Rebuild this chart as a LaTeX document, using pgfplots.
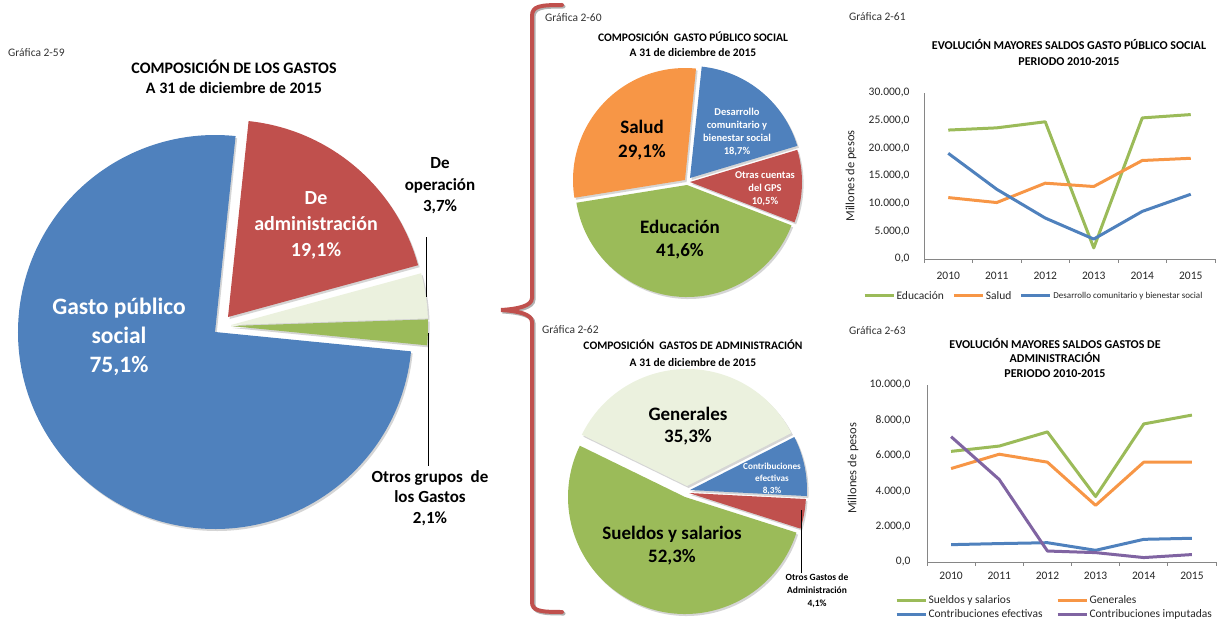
\documentclass[border=0pt]{standalone}
\usepackage{pgfplots}
\pgfplotsset{compat=1.18}
\usepackage{fontspec}
\setmainfont{Carlito}
\definecolor{cblue}{HTML}{4F81BD}
\definecolor{cred}{HTML}{C0504D}
\definecolor{cgreen}{HTML}{9BBB59}
\definecolor{corange}{HTML}{F79646}
\definecolor{cbeige}{HTML}{EBF1DE}
\definecolor{cpurple}{HTML}{8064A2}
\definecolor{axgray}{HTML}{868686}
\newcommand\fs[2]{\fontsize{#1}{#2}\selectfont}
% wedge: cx, cy, r, start angle, percent, style
\newcommand\pwedge[6]{%
  \fill[#6] (axis cs:#1,#2) -- ++(#4:#3pt) arc[start angle=#4, delta angle={-#5*3.6}, radius=#3pt] -- cycle;}
\tikzset{shad/.style={fill=black!30, opacity=0.55, shift={(1.6pt,-2pt)}}}
\pgfplotsset{lc/.style={
  scale only axis, xmin=-0.5, xmax=5.5,
  axis x line=bottom, axis y line=left,
  axis line style={-, draw=axgray, line width=0.8pt},
  xtick={0,...,5}, xticklabels={2010,2011,2012,2013,2014,2015},
  minor xtick={-0.5,0.5,...,5.5},
  major tick length=0pt, minor tick length=4pt, tick align=outside,
  minor tick style={draw=axgray, line width=0.8pt},
  tick label style={font=\fs{11.5}{13}, text=black!85},
  scaled y ticks=false,
  yticklabel style={/pgf/number format/use comma, /pgf/number format/fixed, /pgf/number format/fixed zerofill, /pgf/number format/precision=1, /pgf/number format/1000 sep={.}, /pgf/number format/assume math mode=true},
  clip=false,
  every axis plot/.append style={line width=3pt, line join=round, no marks},
  legend image code/.code={\draw[##1] (0pt,0pt) -- (29pt,0pt);},
  legend cell align=left,
  ylabel={Millones de pesos},
  label style={font=\fs{12.5}{14}, text=black!85},
}}
\begin{document}
\begin{tikzpicture}
\useasboundingbox (0,0) rectangle (1229pt,626pt);
% ---------- canvas axis: pies, brace, titles ----------
\begin{axis}[at={(0pt,0pt)}, anchor=south west, scale only axis,
  width=1229pt, height=626pt, xmin=0, xmax=1229, ymin=0, ymax=626,
  y dir=reverse, hide axis, clip=false]
% Pie 2-59 shadows
\pwedge{228}{317}{197}{84}{19.1}{shad}
\pwedge{231}{325}{197}{15.24}{3.7}{shad}
\pwedge{231}{326}{197}{1.92}{2.1}{shad}
\pwedge{215}{332}{197}{-5.64}{75.1}{shad}
% Pie 2-59
\pwedge{228}{317}{197}{84}{19.1}{cred}
\pwedge{231}{325}{197}{15.24}{3.7}{cbeige}
\pwedge{231}{326}{197}{1.92}{2.1}{cgreen}
\pwedge{215}{332}{197}{-5.64}{75.1}{cblue}
% Pie 2-60
\pwedge{690}{178}{112}{84}{18.7}{shad}
\pwedge{690}{182}{112}{16.68}{10.5}{shad}
\pwedge{687}{185}{112}{-21.12}{41.6}{shad}
\pwedge{685}{180}{112}{-170.88}{29.1}{shad}
\pwedge{690}{178}{112}{84}{18.7}{cblue}
\pwedge{690}{182}{112}{16.68}{10.5}{cred}
\pwedge{687}{185}{112}{-21.12}{41.6}{cgreen}
\pwedge{685}{180}{112}{-170.88}{29.1}{corange}
% Pie 2-62
\pwedge{687}{486}{117}{154}{35.3}{shad}
\pwedge{690}{490}{117}{26.92}{8.3}{shad}
\pwedge{689}{493}{117}{-2.96}{4.1}{shad}
\pwedge{685}{497}{117}{-17.72}{52.3}{shad}
\pwedge{687}{486}{117}{154}{35.3}{cbeige}
\pwedge{690}{490}{117}{26.92}{8.3}{cblue}
\pwedge{689}{493}{117}{-2.96}{4.1}{cred}
\pwedge{685}{497}{117}{-17.72}{52.3}{cgreen}
% brace
\draw[black!30, line width=4pt, line cap=round, shift={(1.5pt,-1.5pt)}]
  (axis cs:562,5) .. controls (axis cs:540,5) and (axis cs:532,6) .. (axis cs:532,16)
  -- (axis cs:532,298) .. controls (axis cs:532,306) and (axis cs:518,309) .. (axis cs:501,310)
  .. controls (axis cs:518,311) and (axis cs:532,314) .. (axis cs:532,322)
  -- (axis cs:532,602) .. controls (axis cs:532,611) and (axis cs:540,612) .. (axis cs:562,612);
\draw[cred, line width=4pt, line cap=round]
  (axis cs:562,5) .. controls (axis cs:540,5) and (axis cs:532,6) .. (axis cs:532,16)
  -- (axis cs:532,298) .. controls (axis cs:532,306) and (axis cs:518,309) .. (axis cs:501,310)
  .. controls (axis cs:518,311) and (axis cs:532,314) .. (axis cs:532,322)
  -- (axis cs:532,602) .. controls (axis cs:532,611) and (axis cs:540,612) .. (axis cs:562,612);
% leader lines
\draw[black, line width=0.9pt] (axis cs:426,237) -- (axis cs:426,297);
\draw[black, line width=0.9pt] (axis cs:428,333) -- (axis cs:428,466);
\draw[black, line width=0.9pt] (axis cs:801,510) -- (axis cs:801,573);
% --- texts pie 2-59
\node[anchor=west, font=\fs{11.5}{13}, text=black!80, inner sep=0pt] at (axis cs:8,53) {Gráfica 2-59};
\node[align=center, font=\bfseries\fs{16}{20}] at (axis cs:234,77) {COMPOSICIÓN DE LOS GASTOS\\A 31 de diciembre de 2015};
\node[align=center, font=\bfseries\fs{23.5}{29}, text=white] at (axis cs:119,337) {Gasto público\\social\\75,1\%};
\node[align=center, font=\bfseries\fs{20}{26}, text=white] at (axis cs:316,225) {De\\administración\\19,1\%};
\node[align=center, font=\bfseries\fs{17}{21.5}] at (axis cs:440,186) {De\\operación\\3,7\%};
\node[align=center, font=\bfseries\fs{17}{20.5}] at (axis cs:430,498) {Otros grupos\ \ de\\los Gastos\\2,1\%};
% --- texts pie 2-60
\node[anchor=west, font=\fs{11.5}{13}, text=black!80, inner sep=0pt] at (axis cs:545,18) {Gráfica 2-60};
\node[align=center, font=\bfseries\fs{11.5}{15}] at (axis cs:693,44.5) {COMPOSICIÓN\ \ GASTO PÚBLICO SOCIAL\\A 31 de diciembre de 2015};
\node[align=center, font=\bfseries\fs{19}{24}] at (axis cs:642,140) {Salud\\29,1\%};
\node[align=center, font=\bfseries\fs{19}{23}] at (axis cs:680,239.5) {Educación\\41,6\%};
\node[align=center, font=\bfseries\fs{10.5}{13.3}, text=white] at (axis cs:737,132) {Desarrollo\\comunitario y\\bienestar social\\18,7\%};
\node[align=center, font=\bfseries\fs{10.5}{13}, text=white] at (axis cs:765,189) {Otras cuentas\\del GPS\\10,5\%};
% --- texts pie 2-62
\node[anchor=west, font=\fs{11.5}{13}, text=black!80, inner sep=0pt] at (axis cs:542,330) {Gráfica 2-62};
\node[align=center, font=\bfseries\fs{11.5}{16.7}] at (axis cs:693,353.5) {COMPOSICIÓN\ \ GASTOS DE ADMINISTRACIÓN\\A 31 de diciembre de 2015};
\node[align=center, font=\bfseries\fs{19}{22}] at (axis cs:688,426) {Generales\\35,3\%};
\node[align=center, font=\bfseries\fs{19}{23}] at (axis cs:672,545.5) {Sueldos y salarios\\52,3\%};
\node[align=center, font=\bfseries\fs{9.2}{12}, text=white] at (axis cs:772,479) {Contribuciones\\efectivas\\8,3\%};
\node[align=center, font=\bfseries\fs{9.5}{13}] at (axis cs:817,591) {Otros\ Gastos de\\Administración\\4,1\%};
% --- texts line charts
\node[anchor=west, font=\fs{11.5}{13}, text=black!80, inner sep=0pt] at (axis cs:849,17) {Gráfica 2-61};
\node[align=center, font=\bfseries\fs{12}{16}] at (axis cs:1069,53) {EVOLUCIÓN MAYORES SALDOS GASTO PÚBLICO SOCIAL\\PERIODO 2010-2015};
\node[anchor=west, font=\fs{11.5}{13}, text=black!80, inner sep=0pt] at (axis cs:849,331) {Gráfica 2-63};
\node[align=center, font=\bfseries\fs{12}{14.5}] at (axis cs:1055,357.5) {EVOLUCIÓN MAYORES SALDOS GASTOS DE\\ADMINISTRACIÓN\\PERIODO 2010-2015};
\end{axis}
% ---------- line chart 2-61 ----------
\begin{axis}[lc, at={(924pt,367pt)}, anchor=south west, width=291pt, height=166pt,
  ymin=0, ymax=30000, ytick={0,5000,...,30000},
  xticklabel style={yshift=-9.5pt}, yticklabel style={xshift=-11pt},
  ylabel style={at={(axis description cs:-0.251,0.5)}, anchor=center},
  legend columns=3,
  legend style={draw=none, fill=none, inner sep=0pt, outer sep=0pt,
    at={(axis description cs:-0.2096,-0.2229)}, anchor=west,
    font=\fs{11.5}{13}, text=black!85, nodes={inner sep=1.5pt},
    /tikz/every even column/.append style={column sep=7pt}}]
\addplot[cgreen] coordinates {(0,23300) (1,23700) (2,24800) (3,2000) (4,25500) (5,26100)};
\addplot[corange] coordinates {(0,11100) (1,10200) (2,13700) (3,13100) (4,17800) (5,18200)};
\addplot[cblue] coordinates {(0,19100) (1,12600) (2,7400) (3,3600) (4,8600) (5,11700)};
\legend{Educación, Salud, {\fs{9}{10}Desarrollo comunitario y bienestar social}}
\end{axis}
% ---------- line chart 2-63 ----------
\begin{axis}[lc, at={(927pt,64pt)}, anchor=south west, width=289pt, height=177pt,
  ymin=0, ymax=10000, ytick={0,2000,...,10000},
  xticklabel style={yshift=-7pt}, yticklabel style={xshift=-13pt},
  ylabel style={at={(axis description cs:-0.256,0.53)}, anchor=center},
  legend columns=2,
  legend style={draw=none, fill=none, inner sep=0pt, outer sep=0pt,
    at={(axis description cs:-0.1107,-0.257)}, anchor=west,
    font=\fs{11.5}{13}, text=black!85, nodes={inner sep=1.5pt}, row sep=2pt,
    /tikz/every even column/.append style={column sep=12pt}}]
\addplot[cgreen] coordinates {(0,6250) (1,6550) (2,7350) (3,3700) (4,7800) (5,8300)};
\addplot[corange] coordinates {(0,5280) (1,6090) (2,5640) (3,3200) (4,5640) (5,5640)};
\addplot[cblue] coordinates {(0,980) (1,1040) (2,1090) (3,660) (4,1280) (5,1340)};
\addplot[cpurple] coordinates {(0,7080) (1,4660) (2,620) (3,530) (4,250) (5,420)};
\legend{Sueldos y salarios, Generales, Contribuciones efectivas, Contribuciones imputadas}
\end{axis}
\end{tikzpicture}
\end{document}
